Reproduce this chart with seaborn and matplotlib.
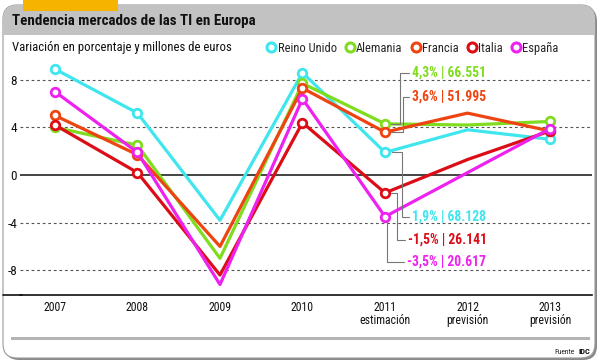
import matplotlib
matplotlib.use("Agg")
import matplotlib.pyplot as plt
import seaborn as sns
import pandas as pd
from matplotlib import font_manager
from matplotlib.transforms import Affine2D
from matplotlib.patches import FancyBboxPatch, Rectangle
from matplotlib.lines import Line2D

# ---------------- data ----------------
years = ["2007", "2008", "2009", "2010", "2011\nestimación", "2012\nprevisión", "2013\nprevisión"]
countries = ["Reino Unido", "Alemania", "Francia", "Italia", "España"]
reino_unido = [8.9, 5.2, -3.8, 8.6, 1.9, 3.8, 3.0]
alemania = [4.0, 2.5, -7.0, 7.7, 4.3, 4.2, 4.5]
francia = [5.0, 1.7, -6.0, 7.3, 3.6, 5.2, 3.7]
italia = [4.2, 0.2, -8.4, 4.4, -1.5, 1.3, 3.7]
espana = [7.0, 1.9, -9.2, 6.4, -3.5, 0.2, 3.9]
marker_years = [0, 1, 3, 4, 6]  # points drawn with a ring marker
labels_2011 = ["1,9% | 68.128", "4,3% | 66.551", "3,6% | 51.995", "-1,5% | 26.141", "-3,5% | 20.617"]
yticks = [-8, -4, 0, 4, 8]

colors = {"Reino Unido": "#3fe6ee", "Alemania": "#7fdc1e", "Francia": "#ee4412",
          "Italia": "#dc0d16", "España": "#ee22ee"}

series = [reino_unido, alemania, francia, italia, espana]
rows = []
for c, vals in zip(countries, series):
    for i, v in enumerate(vals):
        rows.append({"pais": c, "x": i, "val": v})
df = pd.DataFrame(rows)

# ---------------- style ----------------
sns.set_style("white")
installed = {f.name for f in font_manager.fontManager.ttflist}
fam = [f for f in ["Roboto Condensed", "Archivo Narrow", "Liberation Sans Narrow",
                   "Roboto", "DejaVu Sans"] if f in installed]
plt.rcParams["font.family"] = fam + ["DejaVu Sans"]

W, H = 600, 363
fig = plt.figure(figsize=(W / 100, H / 100), dpi=100)
fig.patch.set_facecolor("white")
PX = Affine2D().scale(1 / W, -1 / H).translate(0, 1) + fig.transFigure

# card frame
fig.patches.append(FancyBboxPatch((5, 7), 592, 353, boxstyle="round,pad=0,rounding_size=14",
                                  transform=PX, facecolor="#8a8a8a", edgecolor="none", zorder=-5))
fig.patches.append(FancyBboxPatch((3, 5), 592, 353, boxstyle="round,pad=0,rounding_size=14",
                                  transform=PX, facecolor="white", edgecolor="#9a9a9a", lw=0.8, zorder=-4))
fig.patches.append(FancyBboxPatch((3, 5), 592, 40, boxstyle="round,pad=0,rounding_size=14",
                                  transform=PX, facecolor="#c2c2c2", edgecolor="none", zorder=-3))
fig.patches.append(Rectangle((3.6, 35), 590.8, 12, transform=PX, facecolor="white",
                             edgecolor="none", zorder=-2))
fig.patches.append(Rectangle((23, 0), 95, 11, transform=PX, facecolor="#f6b300",
                             edgecolor="none", zorder=-1))
fig.patches.append(Rectangle((11, 336.5), 579, 3.2, transform=PX, facecolor="#b4b4b4",
                             edgecolor="none", zorder=-1))

fig.text(12, 21, "Tendencia mercados de las TI en Europa", transform=PX, fontsize=10.8,
         fontweight="bold", va="center", ha="left", color="#111111")
fig.text(12, 48, "Variación en porcentaje y millones de euros", transform=PX, fontsize=9.2,
         va="center", ha="left", color="#111111")
fig.text(575, 352, "Fuente", transform=PX, fontsize=5.5, va="center", ha="right", color="#222222")
fig.text(590, 352, "IDC", transform=PX, fontsize=6, fontweight="bold", va="center", ha="right",
         color="#111111")

# ---------------- axes ----------------
ax = fig.add_axes([20 / W, 1 - 295 / H, 572 / W, (295 - 58) / H])
ax.set_zorder(2)
ax.set_facecolor("none")
ax.set_xlim(-0.424, 6.509)
ax.set_ylim(-10.08, 9.83)
for s in ["top", "right", "left"]:
    ax.spines[s].set_visible(False)
ax.spines["bottom"].set_color("#111111")
ax.spines["bottom"].set_linewidth(1.2)
fig.lines.append(Line2D([3, 22], [295, 295], transform=PX, color="#111111", lw=1.2))

for yv in yticks:
    if yv == 0:
        ax.axhline(0, color="#111111", lw=1.1, zorder=1)
    else:
        ax.axhline(yv, color="#555555", lw=0.8, ls=(0, (2.5, 2.5)), zorder=1)

for i, c in enumerate(countries):
    sub = df[df["pais"] == c]
    sns.lineplot(data=sub, x="x", y="val", color=colors[c], linewidth=2.3, ax=ax,
                 legend=False, sort=False, zorder=3 + i)
    subm = sub[sub["x"].isin(marker_years)]
    sns.scatterplot(data=subm, x="x", y="val", color="white", edgecolor=colors[c],
                    linewidth=2.0, s=38, ax=ax, legend=False, zorder=3.5 + i)

ax.set_xticks(range(len(years)))
ax.set_xticklabels(years, fontsize=8.5, linespacing=1.0)
ax.set_yticks(yticks)
ax.set_yticklabels([str(v) for v in yticks], fontsize=9.5)
ax.tick_params(axis="x", length=0, pad=4, colors="#111111")
ax.tick_params(axis="y", length=0, pad=2, colors="#111111")
ax.set_xlabel("")
ax.set_ylabel("")

# ---------------- 2011 annotations ----------------
def data_to_px(x, y):
    dx, dy = ax.transData.transform((x, y))
    return dx, H - dy

# (country index, vertical leader x px, label y px, stub start x px, text x px)
ann = [(1, 400, 73, 391, 412), (2, 403, 97, 391, 412), (0, 402, 217, 392, 412),
       (3, 397, 240, 391, 408), (4, 387, 262, 387, 407)]
fig.canvas.draw()
for ci, vx, ly, sx, tx in ann:
    mx, my = data_to_px(4, series[ci][4])
    if sx == vx:
        xs, ys = [vx, vx, tx - 3], [my + 5, ly, ly]
    else:
        xs, ys = [sx, vx, vx, tx - 3], [my, my, ly, ly]
    fig.lines.append(Line2D(xs, ys, transform=PX, color="#777777", lw=0.8, zorder=2))
    fig.text(tx, ly, labels_2011[ci], transform=PX, fontsize=9.8, fontweight="bold",
             color=colors[countries[ci]], va="center", ha="left")

# ---------------- legend ----------------
handles = [Line2D([], [], marker="o", ls="none", markersize=6.5, markerfacecolor="white",
                  markeredgecolor=colors[c], markeredgewidth=2.2) for c in countries]
fig.legend(handles, countries, loc="center left", bbox_to_anchor=(265 / W, 1 - 48 / H),
           ncol=5, frameon=False, fontsize=9.0, handletextpad=0.0, columnspacing=0.55,
           handlelength=1.0, borderpad=0, borderaxespad=0)

fig.savefig("out.png", dpi=100)
